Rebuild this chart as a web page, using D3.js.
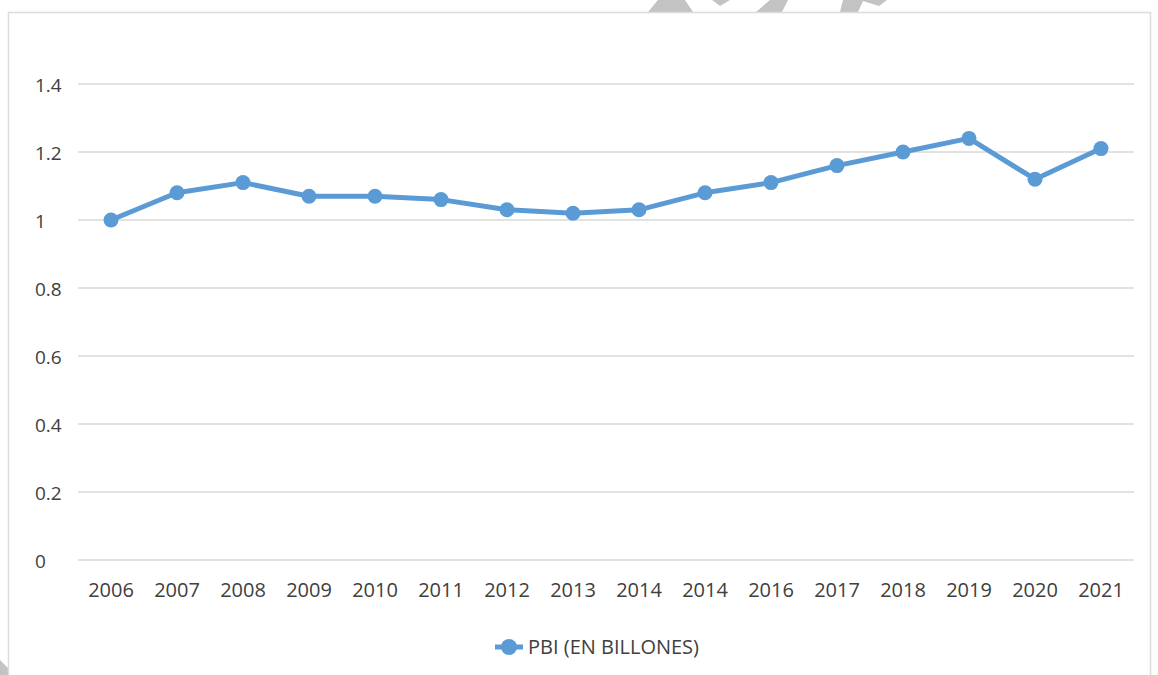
<!DOCTYPE html>
<html>
<head>
<meta charset="utf-8">
<script src="https://cdn.jsdelivr.net/npm/d3@7"></script>
<style>
  body { margin: 0; background: #fff; }
  svg { display: block; }
  text { font-family: "Open Sans", "Noto Sans", sans-serif; fill: #404040; }
</style>
</head>
<body>
<div id="chart"></div>
<script>
// category labels (note the repeated 2014 in the source)
var years = ['2006', '2007', '2008', '2009', '2010', '2011', '2012', '2013',
             '2014', '2014', '2016', '2017', '2018', '2019', '2020', '2021'];
// PBI (en billones)
var pbi = [1.00, 1.08, 1.11, 1.07, 1.07, 1.06, 1.03, 1.02,
           1.03, 1.08, 1.11, 1.16, 1.20, 1.24, 1.12, 1.21];
var yTicks = [0, 0.2, 0.4, 0.6, 0.8, 1, 1.2, 1.4];
var seriesName = 'PBI (EN BILLONES)';

var width = 1158, height = 675;
var blue = '#5b9bd5';

var svg = d3.select('#chart').append('svg')
    .attr('width', width)
    .attr('height', height);

// watermark bits peeking in at the top and bottom left
var gray = '#c3c3c3';
var marks = [
    [[648, 12], [658, 0], [685, 0], [693, 12]],
    [[712, 0], [730, 0], [720, 6]],
    [[756, 12], [770, 0], [788, 0], [782, 12]],
    [[840, 12], [843, 0], [887, 0], [879, 6], [863, 1], [858, 12]],
    [[0, 660], [8, 668], [8, 675], [0, 675]]
];
svg.selectAll('polygon.wm')
    .data(marks)
    .enter()
    .append('polygon')
    .attr('class', 'wm')
    .attr('points', function (d) { return d.join(' '); })
    .style('fill', gray);

// chart frame
svg.append('rect')
    .attr('x', 8.5)
    .attr('y', 12.5)
    .attr('width', 1142)
    .attr('height', 700)
    .style('fill', 'none')
    .style('stroke', '#dcdcdc')
    .style('stroke-width', 1.5);

var x = d3.scaleBand()
    .domain(d3.range(years.length))
    .range([78, 1134]);

var y = d3.scaleLinear()
    .domain([0, 1.4])
    .range([560, 84]);

// gridlines
svg.append('g')
    .selectAll('line')
    .data(yTicks)
    .enter()
    .append('line')
    .attr('x1', 78)
    .attr('x2', 1134)
    .attr('y1', function (d) { return y(d); })
    .attr('y2', function (d) { return y(d); })
    .style('stroke', '#d9d9d9')
    .style('stroke-width', 1.5);

// y tick labels
svg.append('g')
    .selectAll('text')
    .data(yTicks)
    .enter()
    .append('text')
    .attr('x', 35)
    .attr('y', function (d) { return y(d) + 7.5; })
    .style('font-size', '19px')
    .text(function (d) { return String(d); });

// x tick labels
svg.append('g')
    .selectAll('text')
    .data(years)
    .enter()
    .append('text')
    .attr('x', function (d, i) { return x(i) + x.bandwidth() / 2; })
    .attr('y', 597)
    .attr('text-anchor', 'middle')
    .style('font-size', '20px')
    .text(function (d) { return d; });

// series line
var line = d3.line()
    .x(function (d, i) { return x(i) + x.bandwidth() / 2; })
    .y(function (d) { return y(d); });

svg.append('path')
    .datum(pbi)
    .attr('d', line)
    .style('fill', 'none')
    .style('stroke', blue)
    .style('stroke-width', 5)
    .style('stroke-linejoin', 'round');

svg.append('g')
    .selectAll('circle')
    .data(pbi)
    .enter()
    .append('circle')
    .attr('cx', function (d, i) { return x(i) + x.bandwidth() / 2; })
    .attr('cy', function (d) { return y(d); })
    .attr('r', 7.5)
    .style('fill', blue);

// legend
var legend = svg.append('g').attr('transform', 'translate(495,647)');
legend.append('line')
    .attr('x1', 0).attr('x2', 28)
    .style('stroke', blue)
    .style('stroke-width', 5);
legend.append('circle')
    .attr('cx', 14)
    .attr('r', 8)
    .style('fill', blue);
legend.append('text')
    .attr('x', 33)
    .attr('y', 7)
    .style('font-size', '20px')
    .text(seriesName);
</script>
</body>
</html>
